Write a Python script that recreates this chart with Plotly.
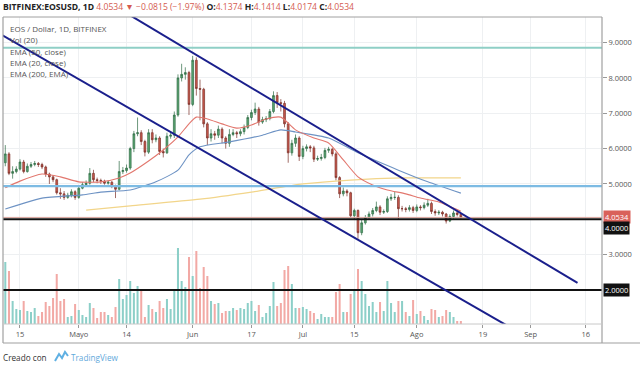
import pandas as pd
import plotly.graph_objects as go

# ---------------- data ----------------
dates = pd.date_range("2019-04-11", periods=125, freq="D")

opens = [5.60, 5.85, 5.30, 5.35, 5.42, 5.62, 5.35, 5.50, 5.55, 5.58,
         5.55, 5.48, 5.28, 5.20, 5.12, 4.75, 4.72, 4.62, 4.68, 4.78,
         4.62, 4.88, 4.98, 5.02, 5.30, 5.12, 5.10, 5.08, 5.02, 5.05,
         4.93, 4.85, 5.35, 5.38, 5.45, 6.00, 6.42, 6.45, 6.20, 5.90,
         6.45, 6.25, 6.30, 5.92, 5.88, 6.35, 6.38, 6.95, 8.00, 8.10,
         8.15, 7.25, 8.50, 7.70, 7.68, 6.70, 6.30, 6.42, 6.38, 6.55,
         6.30, 6.15, 6.40, 6.45, 6.42, 6.48, 6.60, 6.88, 7.02, 7.12,
         6.75, 6.82, 6.85, 7.05, 7.50, 7.30, 7.28, 6.70, 5.88, 6.15,
         6.30, 5.78, 6.00, 6.05, 6.02, 5.70, 5.72, 5.75, 5.95, 5.98,
         5.85, 5.18, 4.72, 4.80, 4.75, 4.10, 4.25, 3.62, 3.90, 4.05,
         4.15, 4.25, 4.35, 4.20, 4.22, 4.58, 4.62, 4.62, 4.30, 4.30,
         4.28, 4.33, 4.25, 4.35, 4.33, 4.40, 4.45, 4.22, 4.18, 4.20,
         4.15, 3.95, 4.08, 4.18, 4.1374]
closes = [5.85, 5.30, 5.35, 5.42, 5.62, 5.35, 5.50, 5.55, 5.58, 5.55,
          5.48, 5.28, 5.20, 5.12, 4.75, 4.72, 4.62, 4.68, 4.78, 4.62,
          4.88, 4.98, 5.02, 5.30, 5.12, 5.10, 5.08, 5.02, 5.05, 4.93,
          4.85, 5.35, 5.38, 5.45, 6.00, 6.42, 6.45, 6.20, 5.90, 6.45,
          6.25, 6.30, 5.92, 5.88, 6.35, 6.38, 6.95, 8.00, 8.10, 8.15,
          7.25, 8.50, 7.70, 7.68, 6.70, 6.30, 6.42, 6.38, 6.55, 6.30,
          6.15, 6.40, 6.45, 6.42, 6.48, 6.60, 6.88, 7.02, 7.12, 6.75,
          6.82, 6.85, 7.05, 7.50, 7.30, 7.28, 6.70, 5.88, 6.15, 6.30,
          5.78, 6.00, 6.05, 6.02, 5.70, 5.72, 5.75, 5.95, 5.98, 5.85,
          5.18, 4.72, 4.80, 4.75, 4.10, 4.25, 3.62, 3.90, 4.05, 4.15,
          4.25, 4.35, 4.20, 4.22, 4.58, 4.62, 4.62, 4.30, 4.30, 4.28,
          4.33, 4.25, 4.35, 4.33, 4.40, 4.45, 4.22, 4.18, 4.20, 4.15,
          3.95, 4.08, 4.18, 4.1374, 4.0534]
highs = [6.10, 5.90, 5.50, 5.50, 5.70, 5.68, 5.58, 5.62, 5.65, 5.62,
         5.60, 5.52, 5.32, 5.25, 5.15, 4.88, 4.80, 4.75, 4.85, 4.82,
         4.95, 5.05, 5.10, 5.45, 5.40, 5.18, 5.15, 5.12, 5.10, 5.08,
         4.98, 5.65, 5.48, 5.55, 6.05, 6.50, 6.88, 6.52, 6.25, 6.55,
         6.55, 6.40, 6.35, 6.00, 6.45, 6.48, 7.05, 8.10, 8.40, 8.30,
         8.20, 8.62, 8.58, 7.95, 7.72, 6.75, 6.55, 6.50, 6.65, 6.60,
         6.35, 6.55, 6.55, 6.50, 6.55, 6.68, 6.95, 7.10, 7.30, 7.18,
         6.90, 6.92, 7.12, 7.62, 7.60, 7.40, 7.35, 6.75, 6.25, 6.40,
         6.35, 6.08, 6.12, 6.10, 6.08, 5.80, 5.85, 6.02, 6.05, 6.02,
         5.90, 5.22, 4.90, 4.85, 4.78, 4.30, 4.28, 3.98, 4.12, 4.22,
         4.32, 4.50, 4.40, 4.28, 4.65, 4.72, 4.78, 4.68, 4.38, 4.35,
         4.40, 4.38, 4.42, 4.40, 4.48, 4.58, 4.50, 4.28, 4.26, 4.24,
         4.18, 4.14, 4.25, 4.22, 4.1414]
lows = [5.50, 5.25, 5.15, 5.30, 5.38, 5.30, 5.32, 5.45, 5.50, 5.48,
        5.42, 5.20, 5.00, 5.05, 4.70, 4.58, 4.55, 4.58, 4.62, 4.55,
        4.58, 4.85, 4.95, 4.98, 5.05, 5.02, 5.00, 4.98, 4.98, 4.88,
        4.60, 4.82, 5.28, 5.32, 5.40, 5.90, 6.35, 6.10, 5.78, 5.85,
        6.15, 6.18, 5.82, 5.75, 5.85, 6.28, 6.30, 6.90, 7.90, 7.95,
        6.95, 7.20, 7.50, 6.80, 6.60, 6.10, 6.20, 6.25, 6.30, 6.15,
        6.00, 6.05, 6.35, 6.30, 6.35, 6.40, 6.55, 6.80, 6.95, 6.65,
        6.70, 6.75, 6.80, 7.00, 7.15, 7.05, 6.60, 5.60, 5.80, 6.05,
        5.65, 5.70, 5.92, 5.90, 5.62, 5.65, 5.66, 5.70, 5.88, 5.78,
        5.10, 4.60, 4.65, 4.65, 4.05, 4.00, 3.45, 3.55, 3.85, 4.00,
        4.08, 4.20, 4.12, 4.15, 4.18, 4.52, 4.55, 4.00, 4.22, 4.20,
        4.22, 4.18, 4.20, 4.25, 4.28, 4.35, 4.15, 4.10, 4.12, 4.08,
        3.88, 3.92, 4.02, 4.08, 4.0174]
volumes = [62, 53, 23, 15, 14, 23, 13, 12, 16, 8,
           12, 22, 18, 26, 50, 23, 25, 7, 8, 20,
           14, 9, 7, 21, 16, 6, 12, 12, 9, 7,
           17, 45, 25, 29, 43, 31, 38, 35, 7, 19,
           15, 12, 23, 16, 25, 15, 33, 76, 43, 37,
           67, 48, 73, 36, 57, 48, 23, 20, 21, 11,
           13, 13, 16, 14, 16, 15, 21, 23, 13, 19,
           7, 11, 18, 42, 18, 21, 54, 58, 40, 16,
           16, 17, 15, 13, 11, 5, 10, 7, 7, 7,
           32, 40, 12, 12, 30, 35, 55, 43, 30, 18,
           22, 12, 22, 13, 43, 21, 12, 23, 23, 12,
           8, 24, 10, 13, 8, 4, 15, 14, 7, 8,
           14, 12, 7, 3, 3]

ema20_dates = ["2019-04-11", "2019-04-15", "2019-04-21", "2019-04-26", "2019-05-01",
               "2019-05-07", "2019-05-12", "2019-05-15", "2019-05-20", "2019-05-24",
               "2019-05-28", "2019-05-31", "2019-06-02", "2019-06-05", "2019-06-09",
               "2019-06-13", "2019-06-17", "2019-06-21", "2019-06-25", "2019-06-29",
               "2019-07-04", "2019-07-08", "2019-07-12", "2019-07-16", "2019-07-20",
               "2019-07-24", "2019-07-29", "2019-08-02", "2019-08-07", "2019-08-13"]
ema20_vals = [4.89, 5.08, 5.28, 5.20, 5.06, 5.06, 5.17, 5.31, 5.65, 5.96,
              6.33, 6.70, 6.89, 6.84, 6.70, 6.58, 6.67, 6.84, 6.89, 6.53,
              6.30, 6.16, 5.68, 5.20, 4.97, 4.83, 4.72, 4.60, 4.49, 4.23]

ema50_dates = ["2019-04-11", "2019-04-21", "2019-05-02", "2019-05-07", "2019-05-15",
               "2019-05-22", "2019-05-28", "2019-05-31", "2019-06-03", "2019-06-11",
               "2019-06-20", "2019-06-25", "2019-06-29", "2019-07-08", "2019-07-16",
               "2019-07-27", "2019-08-04", "2019-08-13"]
ema50_vals = [4.29, 4.60, 4.69, 4.77, 4.83, 5.06, 5.39, 5.82, 6.05, 6.19,
              6.38, 6.53, 6.47, 6.30, 5.88, 5.39, 5.06, 4.74]

ema200_dates = ["2019-05-03", "2019-05-15", "2019-06-03", "2019-06-17", "2019-07-01",
                "2019-07-14", "2019-07-28", "2019-08-13"]
ema200_vals = [4.26, 4.38, 4.57, 4.77, 5.00, 5.11, 5.17, 5.17]

tick_dates = ["2019-04-15", "2019-05-01", "2019-05-14", "2019-06-01", "2019-06-17",
              "2019-07-01", "2019-07-15", "2019-08-01", "2019-08-19", "2019-09-01",
              "2019-09-16"]
tick_labels = ["15", "Mayo", "14", "Jun", "17", "Jul", "15", "Ago", "19", "Sep", "16"]

price_ticks = [3, 5, 6, 7, 8, 9]
level_teal = 8.85
level_blue = 4.94
level_black = [4.0, 2.0]
last_price = 4.0534

channel_upper = (["2019-05-10", "2019-09-13 18:00"], [10.08, 2.20])
channel_lower = (["2019-04-10", "2019-09-01"], [9.22, 0.61])

# ---------------- figure ----------------
W, H = 640, 366
L, R, T, B = 3, 38, 17, 42
pw, ph = W - L - R, H - T - B


def px(x):
    return (x - L) / pw


def py(y):
    return (H - B - y) / ph


up_fill, up_line = "#5BA672", "#2E6B45"
dn_fill, dn_line = "#CC5A4E", "#7A2E27"
vol_colors = ["#8CCFC8" if c >= o else "#F2A9A5" for o, c in zip(opens, closes)]

fig = go.Figure()
fig.add_trace(go.Bar(x=dates, y=volumes, marker_color=vol_colors, marker_line_width=0,
                     width=0.55 * 86400000, yaxis="y2", hoverinfo="skip"))
fig.add_trace(go.Scatter(x=ema200_dates, y=ema200_vals, mode="lines",
                         line=dict(color="#F2D58A", width=1.2, shape="spline", smoothing=0.6)))
fig.add_trace(go.Scatter(x=ema50_dates, y=ema50_vals, mode="lines",
                         line=dict(color="#6E93C4", width=1.1, shape="spline", smoothing=0.6)))
fig.add_trace(go.Scatter(x=ema20_dates, y=ema20_vals, mode="lines",
                         line=dict(color="#E2776E", width=1.1, shape="spline", smoothing=0.6)))
fig.add_trace(go.Candlestick(x=dates, open=opens, high=highs, low=lows, close=closes,
                             increasing=dict(fillcolor=up_fill, line=dict(color=up_line, width=0.7)),
                             decreasing=dict(fillcolor=dn_fill, line=dict(color=dn_line, width=0.7)),
                             whiskerwidth=0))

shapes = []
# horizontal levels
shapes.append(dict(type="line", xref="paper", yref="y", x0=0, x1=1, y0=level_teal, y1=level_teal,
                   line=dict(color="#8FCFC6", width=2)))
shapes.append(dict(type="line", xref="paper", yref="y", x0=0, x1=1, y0=level_blue, y1=level_blue,
                   line=dict(color="#7DBBE3", width=2.2)))
shapes.append(dict(type="line", xref="paper", yref="y", x0=0, x1=1, y0=last_price, y1=last_price,
                   line=dict(color="#D9A39C", width=1)))
for lv in level_black:
    shapes.append(dict(type="line", xref="paper", yref="y", x0=0, x1=1, y0=lv, y1=lv,
                       line=dict(color="#111111", width=2)))
# channel lines
for xs, ys in (channel_upper, channel_lower):
    shapes.append(dict(type="line", xref="x", yref="y", x0=xs[0], x1=xs[1], y0=ys[0], y1=ys[1],
                       line=dict(color="#1A1F8C", width=2)))
# frame
frame = "#A0A0A0"
shapes += [
    dict(type="line", xref="paper", yref="paper", x0=px(3), x1=px(602), y0=py(17), y1=py(17),
         line=dict(color=frame, width=1)),
    dict(type="line", xref="paper", yref="paper", x0=px(3), x1=px(3), y0=py(17), y1=py(343),
         line=dict(color=frame, width=1.2)),
    dict(type="line", xref="paper", yref="paper", x0=px(602), x1=px(602), y0=py(17), y1=py(343),
         line=dict(color=frame, width=1.2)),
    dict(type="line", xref="paper", yref="paper", x0=px(3), x1=px(640), y0=py(343), y1=py(343),
         line=dict(color=frame, width=1.2)),
    dict(type="line", xref="paper", yref="paper", x0=px(3), x1=px(602), y0=py(324), y1=py(324),
         line=dict(color="#C8C8C8", width=1)),
]
# TradingView logo (small icon)
shapes.append(dict(type="path", xref="paper", yref="paper",
                   path=f"M {px(55)} {py(361)} L {px(59)} {py(354)} L {px(62)} {py(358)} "
                        f"L {px(65)} {py(352)} L {px(68)} {py(356)}",
                   line=dict(color="#5FB0E3", width=2)))

red = "#D45B50"
ann = []
header = ("<b>BITFINEX:EOSUSD, 1D</b> <span style='color:%s'>4.0534 ▼ −0.0815 (−1.97%%)</span> "
          "<b>O:</b><span style='color:%s'>4.1374</span> <b>H:</b><span style='color:%s'>4.1414</span> "
          "<b>L:</b><span style='color:%s'>4.0174</span> <b>C:</b><span style='color:%s'>4.0534</span>"
          % (red, red, red, red, red))
ann.append(dict(xref="paper", yref="paper", x=px(1), y=py(7.5), xanchor="left", yanchor="middle",
                text=header, showarrow=False, font=dict(size=8.6, color="#222", family="Open Sans")))
legend_lines = ["EOS / Dollar, 1D, BITFINEX", "Vol (20)", "EMA (50, close)",
                "EMA (20, close)", "EMA (200, EMA)"]
for k, t in enumerate(legend_lines):
    ann.append(dict(xref="paper", yref="paper", x=px(8), y=py(28.5 + 11.3 * k), xanchor="left",
                    yanchor="middle", text=t, showarrow=False,
                    font=dict(size=8, color="#555", family="Open Sans")))
# price boxes
for val, yshift, bg in ((last_price, 0, "#D9615A"), (4.0, -9, "#111111"), (2.0, 0, "#111111")):
    ann.append(dict(xref="paper", yref="y", x=1, y=val, xanchor="left", yanchor="middle",
                    xshift=1, yshift=yshift, text="%.4f" % val, showarrow=False, bgcolor=bg,
                    borderpad=1, font=dict(size=7.5, color="white", family="Open Sans")))
ann.append(dict(xref="paper", yref="paper", x=px(1), y=py(357), xanchor="left", yanchor="middle",
                text="Creado con", showarrow=False, font=dict(size=8.2, color="#333", family="Open Sans")))
ann.append(dict(xref="paper", yref="paper", x=px(69), y=py(357), xanchor="left", yanchor="middle",
                text="TradingView", showarrow=False, font=dict(size=8.2, color="#5FA9DB", family="Open Sans")))

fig.update_layout(
    width=W, height=H, margin=dict(l=L, r=R, t=T, b=B),
    paper_bgcolor="white", plot_bgcolor="white", showlegend=False,
    shapes=shapes, annotations=ann,
    xaxis=dict(type="date", range=["2019-04-10 09:00", "2019-09-20 10:00"],
               tickvals=tick_dates, ticktext=tick_labels, showgrid=True, gridcolor="#EEF0F2",
               gridwidth=1, ticks="outside", ticklen=3, tickcolor="#999", showline=False,
               zeroline=False, tickfont=dict(size=7.5, color="#555", family="Open Sans"),
               rangeslider=dict(visible=False), fixedrange=True),
    yaxis=dict(side="right", range=[1.038, 9.723], tickvals=price_ticks, tickformat=".4f",
               showgrid=True, gridcolor="#EEF0F2", ticks="outside", ticklen=4, tickcolor="#999",
               showline=False, zeroline=False,
               tickfont=dict(size=7.5, color="#555", family="Open Sans")),
    yaxis2=dict(overlaying="y", range=[0, ph], visible=False, fixedrange=True),
)

fig.write_html("out.html")
